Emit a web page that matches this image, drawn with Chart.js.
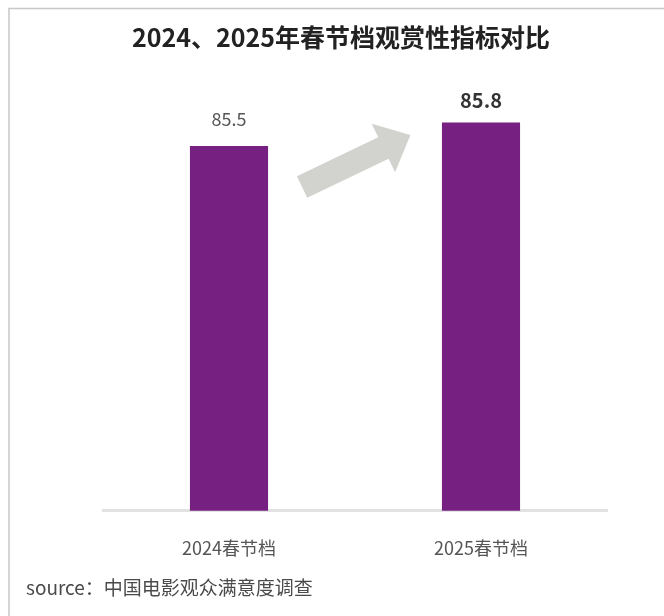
<!DOCTYPE html>
<html>
<head>
<meta charset="utf-8">
<script src="https://cdn.jsdelivr.net/npm/chart.js@4/dist/chart.umd.min.js"></script>
<style>
  html, body { margin: 0; padding: 0; background: #fff; }
  #wrap { position: absolute; left: 0; top: 0; width: 664px; height: 616px; }
</style>
</head>
<body>
<div id="wrap"><canvas id="chart"></canvas></div>
<script>
  const categories = ["2024春节档", "2025春节档"];
  const scores = [85.5, 85.8];
  const chartTitle = "2024、2025年春节档观赏性指标对比";
  const sourceNote = "source：中国电影观众满意度调查";

  const font = '"Noto Sans CJK SC", "Noto Sans", sans-serif';
  Chart.defaults.font.family = font;

  // frame, title and source line
  const frame = {
    id: "frame",
    beforeDraw(chart) {
      const ctx = chart.ctx;
      ctx.save();
      ctx.fillStyle = "#fff";
      ctx.fillRect(0, 0, chart.width, chart.height);
      ctx.strokeStyle = "#c8c8c8";
      ctx.lineWidth = 1.5;
      ctx.beginPath();
      ctx.moveTo(9, chart.height);
      ctx.lineTo(9, 8.5);
      ctx.lineTo(chart.width, 8.5);
      ctx.stroke();
      ctx.restore();
    },
    afterDraw(chart) {
      const ctx = chart.ctx;
      ctx.save();
      ctx.textBaseline = "middle";
      ctx.fillStyle = "#222";
      ctx.font = "bold 25px " + font;
      ctx.textAlign = "center";
      ctx.fillText(chartTitle, 341, 37);
      ctx.fillStyle = "#4a4a4a";
      ctx.font = "19px " + font;
      ctx.textAlign = "left";
      ctx.fillText(sourceNote, 26, 588);
      ctx.restore();
    }
  };

  // value labels and the grey rising arrow
  const marks = {
    id: "marks",
    afterDatasetsDraw(chart) {
      const ctx = chart.ctx;
      const meta = chart.getDatasetMeta(0);
      const xs = chart.scales.x, ys = chart.scales.y;
      ctx.save();
      ctx.textAlign = "center";
      ctx.textBaseline = "middle";
      meta.data.forEach((bar, i) => {
        ctx.fillStyle = i === 1 ? "#333" : "#555";
        ctx.font = (i === 1 ? "bold 20px " : "18px ") + font;
        ctx.fillText(scores[i].toFixed(1), bar.x, bar.y - (i === 1 ? 22 : 27));
      });

      const x0 = xs.getPixelForValue(0), x1 = xs.getPixelForValue(1);
      const tail = { x: x0 + 0.29 * (x1 - x0), y: ys.getPixelForValue(84.97) };
      const tip = { x: x0 + 0.72 * (x1 - x0), y: ys.getPixelForValue(85.64) };
      const dx = tip.x - tail.x, dy = tip.y - tail.y;
      const len = Math.hypot(dx, dy);
      const ux = dx / len, uy = dy / len, nx = -uy, ny = ux;
      const shaft = 12, head = 27, headLen = 30;
      const bx = tip.x - ux * headLen, by = tip.y - uy * headLen;
      ctx.fillStyle = "#d2d2ce";
      ctx.beginPath();
      ctx.moveTo(tail.x + nx * shaft, tail.y + ny * shaft);
      ctx.lineTo(bx + nx * shaft, by + ny * shaft);
      ctx.lineTo(bx + nx * head, by + ny * head);
      ctx.lineTo(tip.x, tip.y);
      ctx.lineTo(bx - nx * head, by - ny * head);
      ctx.lineTo(bx - nx * shaft, by - ny * shaft);
      ctx.lineTo(tail.x - nx * shaft, tail.y - ny * shaft);
      ctx.closePath();
      ctx.fill();
      ctx.restore();
    }
  };

  new Chart(document.getElementById("chart"), {
    type: "bar",
    data: {
      labels: categories,
      datasets: [{
        data: scores,
        backgroundColor: "#762181",
        barPercentage: 0.31,
        categoryPercentage: 1
      }]
    },
    options: {
      responsive: true,
      maintainAspectRatio: false,
      animation: false,
      layout: { padding: { top: 90, left: 103, right: 57, bottom: 29.6 } },
      plugins: { legend: { display: false }, tooltip: { enabled: false } },
      scales: {
        x: {
          grid: { display: false, drawTicks: false },
          border: { color: "#e2e2e2", width: 3 },
          ticks: { color: "#555", font: { size: 18 }, padding: 27 }
        },
        y: { display: false, min: 80.8, max: 86.22 }
      }
    },
    plugins: [frame, marks]
  });
</script>
</body>
</html>
